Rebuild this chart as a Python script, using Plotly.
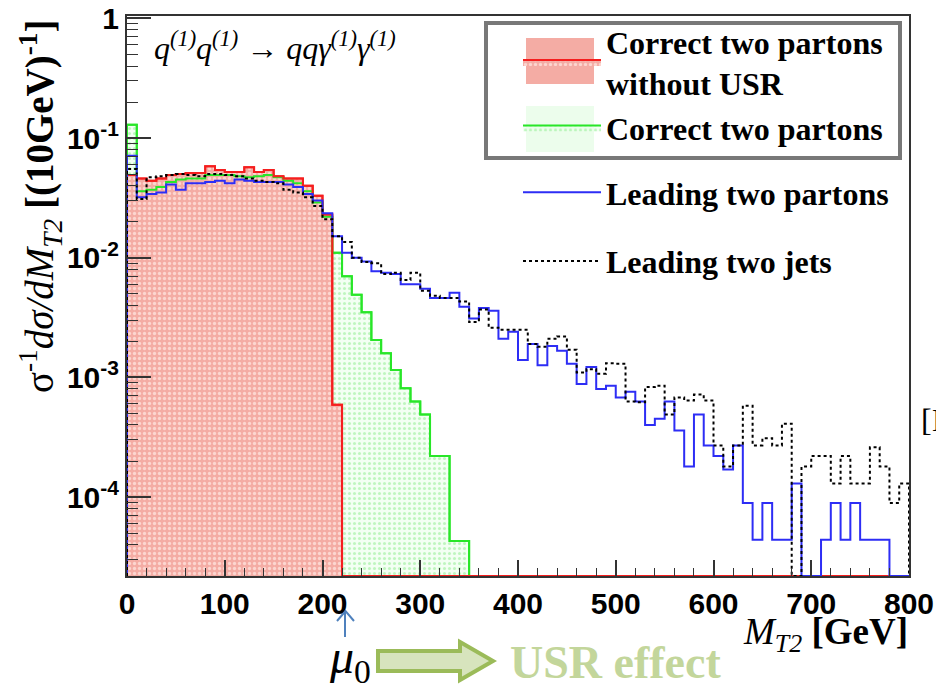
import plotly.graph_objects as go

# ---- data: normalised M_T2 distributions, 10 GeV bins from 0 to 800 GeV ----
bin_width = 10
n_bins = 80
bin_edges = [i * bin_width for i in range(n_bins + 1)]

correct_no_usr = [
    0.049, 0.046, 0.044, 0.046, 0.049, 0.050, 0.051, 0.051, 0.058, 0.054,
    0.052, 0.052, 0.057, 0.052, 0.054, 0.048, 0.046, 0.046, 0.040, 0.033,
    0.023, 0.00059,
] + [0.0] * 58

correct_two = [
    0.129, 0.036, 0.037, 0.039, 0.043, 0.045, 0.046, 0.046, 0.049, 0.049,
    0.049, 0.048, 0.047, 0.048, 0.049, 0.047, 0.044, 0.042, 0.036, 0.029,
    0.022, 0.011, 0.0070, 0.0049, 0.0035, 0.00205, 0.00159, 0.00115, 0.00081, 0.00063,
    0.00049, 0.00022, 0.00022, 4.3e-5, 4.3e-5,
] + [0.0] * 45

leading_partons = [
    0.071, 0.032, 0.034, 0.035, 0.041, 0.037, 0.042, 0.042, 0.043, 0.044,
    0.042, 0.045, 0.044, 0.043, 0.043, 0.043, 0.041, 0.039, 0.034, 0.030,
    0.0235, 0.0151, 0.0110, 0.0100, 0.0093, 0.0077, 0.0075, 0.0073, 0.0060, 0.0060,
    0.0055, 0.0046, 0.0046, 0.0051, 0.0039, 0.0031, 0.0038, 0.0036, 0.0021, 0.0024,
    0.0014, 0.0019, 0.00126, 0.00183, 0.00167, 0.0013, 0.00088, 0.00122, 0.00080, 0.00085,
    0.00068, 0.00076, 0.00063, 0.00040, 0.00045, 0.00063, 0.00036, 0.00018, 0.00049, 0.00027,
    0.00022, 0.00017, 0.00027, 8.9e-5, 4.4e-5, 8.9e-5, 4.4e-5, 4.4e-5, 1.3e-4, 0.0,
    0.0, 4.4e-5, 8.9e-5, 4.4e-5, 8.9e-5, 4.4e-5, 4.4e-5, 4.4e-5, 0.0, 0.0,
]

leading_jets = [
    0.055, 0.031, 0.047, 0.048, 0.049, 0.050, 0.049, 0.048, 0.050, 0.050,
    0.049, 0.048, 0.046, 0.044, 0.043, 0.042, 0.037, 0.035, 0.032, 0.027,
    0.021, 0.0151, 0.0135, 0.0100, 0.0092, 0.0090, 0.0073, 0.0075, 0.0065, 0.0075,
    0.0053, 0.0048, 0.0046, 0.0046, 0.0043, 0.0029, 0.0037, 0.0026, 0.0025, 0.0025,
    0.0025, 0.0019, 0.0018, 0.0021, 0.0022, 0.0017, 0.00110, 0.00117, 0.00107, 0.00131,
    0.0013, 0.00063, 0.00062, 0.00083, 0.00085, 0.00049, 0.00068, 0.00064, 0.00072, 0.00064,
    0.00027, 0.00018, 0.00027, 0.00058, 0.00027, 0.00031, 0.00027, 0.00041, 0.0, 0.00018,
    0.00022, 0.00022, 0.00013, 0.00022, 0.00013, 0.00013, 0.00026, 0.00018, 8.9e-5, 0.00013,
]

for series in (correct_no_usr, correct_two, leading_partons, leading_jets):
    assert len(series) == n_bins

x_ticks = list(range(0, 801, 100))
y_ticks = [1, 1e-1, 1e-2, 1e-3, 1e-4]
y_tick_text = ["1", "10<sup>-1</sup>", "10<sup>-2</sup>", "10<sup>-3</sup>", "10<sup>-4</sup>"]
mu0_position = 223  # GeV, marked by the arrow under the axis

# ---- geometry of the plotting frame (pixels in the 936x691 page) ----
W, H = 936, 691
L, R, T, B = 127, 909, 16, 576
log_min, log_max = -4.66, 0.02
floor = 10 ** log_min


def px(x):
    return (x - L) / (R - L)


def py(y):
    return (B - y) / (B - T)


def step_path(values):
    """Closed step outline of a histogram; empty bins sit on the axis floor."""
    ys = [max(v, floor) for v in values]
    xs = [bin_edges[0]] + bin_edges + [bin_edges[-1]]
    ys = [floor] + ys + [ys[-1]] + [floor]
    return xs, ys


SERIF = "Liberation Serif"
SANS = "Liberation Sans"
RED = "rgb(245,30,30)"
GREEN = "rgb(40,230,40)"
BLUE = "rgb(45,45,245)"
RED_FILL = "rgb(244,172,164)"
GREEN_FILL = "rgb(236,253,236)"

red_pattern = dict(shape=".", size=5, solidity=0.35, fillmode="replace",
                   bgcolor=RED_FILL, fgcolor="rgb(252,214,208)")
green_pattern = dict(shape=".", size=5, solidity=0.3, fillmode="replace",
                     bgcolor="rgba(232,255,232,0.5)", fgcolor="rgba(140,235,140,0.5)")

fig = go.Figure()

gx, gy = step_path(correct_two)
rx, ry = step_path(correct_no_usr)
bx, by = step_path(leading_partons)
kx, ky = step_path(leading_jets)

# filled histograms (first legend)
fig.add_trace(go.Scatter(
    x=gx, y=gy, mode="lines", line=dict(shape="hv", color=GREEN, width=2),
    fill="toself", fillpattern=green_pattern,
    name="Correct two partons", legend="legend", legendgroup="g2", legendrank=2,
))
fig.add_trace(go.Scatter(
    x=rx, y=ry, mode="lines", line=dict(shape="hv", color=RED, width=2),
    fill="toself", fillpattern=red_pattern,
    name="Correct two partons<br>without USR", legend="legend", legendgroup="g1", legendrank=1,
))
# outlines redrawn above the red fill
fig.add_trace(go.Scatter(x=gx, y=gy, mode="lines", showlegend=False, hoverinfo="skip",
                         line=dict(shape="hv", color=GREEN, width=2)))
fig.add_trace(go.Scatter(x=rx, y=ry, mode="lines", showlegend=False, hoverinfo="skip",
                         line=dict(shape="hv", color=RED, width=2)))

# line histograms (second legend)
fig.add_trace(go.Scatter(
    x=bx, y=by, mode="lines", line=dict(shape="hv", color=BLUE, width=2),
    name="Leading two partons", legend="legend2", legendgroup="g3",
))
fig.add_trace(go.Scatter(
    x=kx, y=ky, mode="lines", line=dict(shape="hv", color="black", width=2, dash="dot"),
    name="Leading two jets", legend="legend2", legendgroup="g4",
))

minor_y = [k * 10 ** e for e in range(-5, 0) for k in range(2, 10) if k * 10 ** e >= floor]

fig.update_xaxes(
    range=[0, 800], tickvals=x_ticks, ticks="inside", ticklen=16, tickwidth=1.5,
    tickcolor="#333", showline=True, linecolor="#333", linewidth=2, mirror=True,
    showgrid=False, zeroline=False,
    tickfont=dict(family=SANS, size=30, color="black", weight="bold"),
    minor=dict(dtick=20, ticks="inside", ticklen=8, tickwidth=1.2, tickcolor="#333", showgrid=False),
)
fig.update_yaxes(
    type="log", range=[log_min, log_max], tickmode="array", tickvals=y_ticks, ticktext=y_tick_text,
    ticks="inside", ticklen=24, tickwidth=1.5, tickcolor="#333",
    showline=True, linecolor="#333", linewidth=2, mirror=True,
    showgrid=False, zeroline=False,
    tickfont=dict(family=SANS, size=30, color="black", weight="bold"),
    minor=dict(tickvals=minor_y, ticks="inside", ticklen=11, tickwidth=1.2,
               tickcolor="#333", showgrid=False),
)

annotations = [
    # process label
    dict(text="<i>q</i><sup><i>(1)</i></sup><i>q</i><sup><i>(1)</i></sup> \u2192 "
              "<i>qq\u03b3</i><sup><i>(1)</i></sup><i>\u03b3</i><sup><i>(1)</i></sup>",
         x=px(152), y=py(46), xanchor="left", yanchor="middle",
         font=dict(family=SERIF, size=32, color="black")),
    # x-axis title
    dict(text="<i>M</i><sub><i>T2</i></sub> <b>[GeV]</b>",
         x=px(910), y=py(634), xanchor="right", yanchor="middle",
         font=dict(family=SERIF, size=37, color="black")),
    # y-axis title
    dict(text="\u03c3<sup>-1</sup><i>d\u03c3/dM</i><sub><i>T2</i></sub> <b>[(10GeV)<sup>-1</sup>]</b>",
         x=px(40), y=py(207), xanchor="center", yanchor="middle", textangle=-90,
         font=dict(family=SERIF, size=39, color="black")),
    # fragment of neighbouring text at the right edge
    dict(text="[I", x=px(919), y=py(420), xanchor="left", yanchor="middle",
         font=dict(family=SERIF, size=32, color="black")),
    # mu_0 label
    dict(text="<i>\u03bc</i><sub>0</sub>", x=px(350), y=py(660), xanchor="center", yanchor="middle",
         font=dict(family=SERIF, size=48, color="black")),
    # USR effect label
    dict(text="<b>USR effect</b>", x=px(508), y=py(662), xanchor="left", yanchor="middle",
         font=dict(family=SERIF, size=46, color="rgb(195,214,155)")),
]
for a in annotations:
    a.update(xref="paper", yref="paper", showarrow=False)

# block arrow pointing from mu_0 to the USR label (paper coordinates)
arrow_pts = [(378, 651), (460, 651), (460, 642), (493, 661), (460, 680), (460, 671), (378, 671)]
arrow_path = "M " + " L ".join(f"{px(x):.5f},{py(y):.5f}" for x, y in arrow_pts) + " Z"

shapes = [
    # frame around the first two legend entries
    dict(type="rect", xref="paper", yref="paper", x0=px(486), x1=px(900), y0=py(158), y1=py(23),
         line=dict(color="rgb(120,120,120)", width=4), fillcolor="rgba(0,0,0,0)"),
    # full-height fill swatches behind the legend keys of the filled histograms
    dict(type="rect", xref="paper", yref="paper", x0=px(526), x1=px(594), y0=py(84), y1=py(38),
         line=dict(width=0), fillcolor=RED_FILL),
    dict(type="rect", xref="paper", yref="paper", x0=px(526), x1=px(594), y0=py(152), y1=py(106),
         line=dict(width=0), fillcolor=GREEN_FILL),
    # small arrow marking mu_0 on the M_T2 axis
    dict(type="path", xref="x", yref="paper",
         path=f"M {mu0_position},{py(637):.5f} L {mu0_position},{py(611):.5f}",
         line=dict(color="rgb(79,129,189)", width=2)),
    dict(type="path", xref="paper", yref="paper",
         path=f"M {px(337):.5f},{py(621):.5f} L {px(345.5):.5f},{py(611):.5f} L {px(354):.5f},{py(621):.5f}",
         line=dict(color="rgb(79,129,189)", width=2)),
    dict(type="path", xref="paper", yref="paper", path=arrow_path,
         line=dict(color="rgb(155,187,89)", width=4), fillcolor="rgb(215,228,189)"),
]

legend_font = dict(family=SERIF, size=32, color="black", weight="bold")
fig.update_layout(
    width=W, height=H,
    margin=dict(l=L, r=W - R, t=T, b=H - B, autoexpand=False),
    paper_bgcolor="white", plot_bgcolor="white",
    annotations=annotations, shapes=shapes,
    legend=dict(x=px(518), y=py(14), xanchor="left", yanchor="top",
                bgcolor="rgba(0,0,0,0)", borderwidth=0, itemwidth=78,
                tracegroupgap=0, traceorder="grouped", font=legend_font),
    legend2=dict(x=px(518), y=py(165), xanchor="left", yanchor="top",
                 bgcolor="rgba(0,0,0,0)", borderwidth=0, itemwidth=78,
                 tracegroupgap=24, traceorder="grouped", font=legend_font),
    showlegend=True,
)

fig.write_html("out.html")
